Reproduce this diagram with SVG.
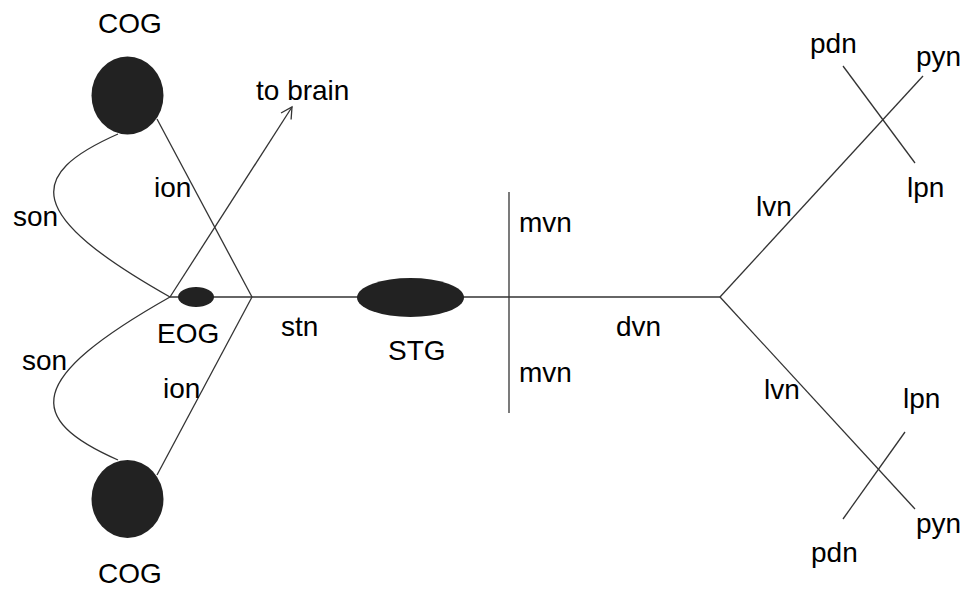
<svg xmlns="http://www.w3.org/2000/svg" width="967" height="589" viewBox="0 0 967 589">
<style>
.ln{fill:none;stroke:#333;stroke-width:1.3}
.gang{fill:#222}
text{font-family:"Liberation Sans",Arial,sans-serif;font-size:28px;fill:#000}
</style>
<defs>
<marker id="arr" markerWidth="14" markerHeight="14" refX="12" refY="7" orient="auto" markerUnits="userSpaceOnUse">
<path d="M1,1 L12,7 L1,13" fill="none" stroke="#333" stroke-width="1.3"/>
</marker>
</defs>
<rect width="967" height="589" fill="#fff"/>
<g id="connectors">
<path class="ln" d="M118,134 C25,175 25,215 170,297"/>
<path class="ln" d="M170,297 C25,379 25,419 118,460"/>
<line class="ln" x1="157" y1="119" x2="252" y2="297"/>
<line class="ln" x1="157" y1="475" x2="252" y2="297"/>
<line class="ln" x1="170" y1="297" x2="292" y2="107" marker-end="url(#arr)"/>
<line class="ln" x1="170" y1="297" x2="720" y2="297"/>
<line class="ln" x1="509" y1="192" x2="509" y2="413"/>
<line class="ln" x1="720" y1="297" x2="923" y2="76"/>
<line class="ln" x1="843" y1="66" x2="915" y2="163"/>
<line class="ln" x1="720" y1="297" x2="915" y2="509"/>
<line class="ln" x1="905" y1="432" x2="843" y2="519"/>
</g>
<g id="cog-top"><ellipse class="gang" cx="127.5" cy="95.5" rx="36" ry="39"/><text x="98" y="33">COG</text></g>
<g id="cog-bottom"><ellipse class="gang" cx="127.5" cy="499" rx="36" ry="39"/><text x="98" y="583">COG</text></g>
<g id="eog"><ellipse class="gang" cx="196" cy="297" rx="18" ry="10"/><text x="157" y="343">EOG</text></g>
<g id="stg"><ellipse class="gang" cx="410.5" cy="297.5" rx="53.5" ry="19.5"/><text x="388" y="360">STG</text></g>
<g id="labels">
<text x="256" y="100">to brain</text>
<text x="13" y="226">son</text>
<text x="154" y="197">ion</text>
<text x="281" y="336">stn</text>
<text x="22" y="370">son</text>
<text x="163" y="398">ion</text>
<text x="519" y="232">mvn</text>
<text x="519" y="382">mvn</text>
<text x="616" y="336">dvn</text>
<text x="810" y="53">pdn</text>
<text x="916" y="66">pyn</text>
<text x="907" y="197">lpn</text>
<text x="756" y="216">lvn</text>
<text x="764" y="399">lvn</text>
<text x="903" y="408">lpn</text>
<text x="916" y="533">pyn</text>
<text x="811" y="562">pdn</text>
</g>
</svg>
